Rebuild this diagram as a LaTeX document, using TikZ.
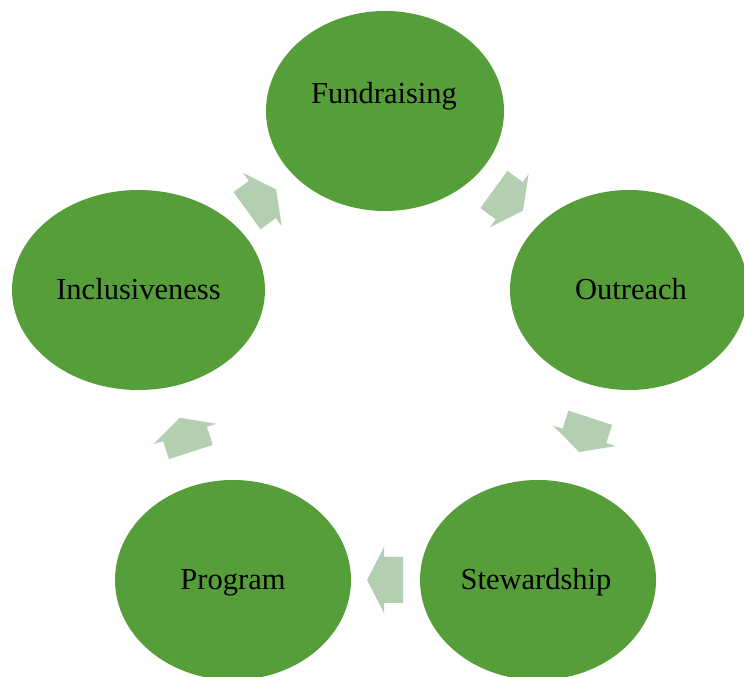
\documentclass[tikz,border=0pt]{standalone}
\usepackage{fontspec}
\setmainfont{Liberation Serif}
\usetikzlibrary{shapes.geometric}
\definecolor{blobgreen}{HTML}{559E3A}
\definecolor{arrowgreen}{HTML}{B3CEB0}
\begin{document}
\begin{tikzpicture}[x=1pt,y=1pt,
  blob/.style={ellipse, fill=blobgreen, draw=none, inner sep=0pt, minimum height=200},
  lbl/.style={font=\fontsize{30.5}{34}\selectfont, text=black, anchor=base, inner sep=0pt},
  cyc/.style={fill=arrowgreen, draw=none}]
\useasboundingbox (0,0) rectangle (744,677);
\node[blob, minimum width=238] (fund) at (385,566) {};
\node[blob, minimum width=238] (outr) at (629,387) {};
\node[blob, minimum width=236] (stew) at (538,97) {};
\node[blob, minimum width=236] (prog) at (233,97) {};
\node[blob, minimum width=253] (incl) at (138.5,387) {};
\node[lbl] (tfund) at (384,573) {Fundraising};
\node[lbl] (toutr) at (631,377) {Outreach};
\node[lbl] (tstew) at (536,87) {Stewardship};
\node[lbl] (tprog) at (233,87) {Program};
\node[lbl] (tincl) at (138.5,377) {Inclusiveness};
\coordinate (c) at (385,307);
\foreach \pos/\dir in {126/36, 54/-36, -18/-108, -90/180, 198/108} {
  \begin{scope}[shift={(c)}, shift={(\pos:210)}, rotate=\dir]
    \fill[cyc] (18,0) -- (1,33) -- (1,23) -- (-18,23) -- (-18,-23) -- (1,-23) -- (1,-33) -- cycle;
  \end{scope}
}
\end{tikzpicture}
\end{document}
